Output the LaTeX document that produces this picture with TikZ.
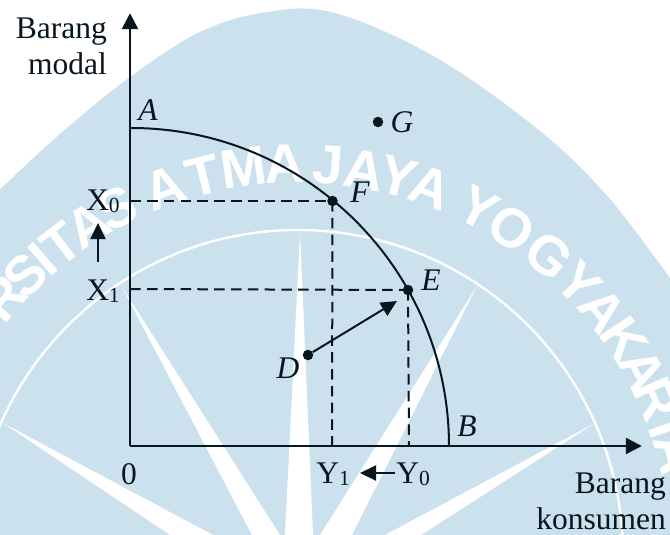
\documentclass[tikz,border=0pt]{standalone}
\usepackage{fontspec}
\setmainfont{Liberation Serif}
\newfontfamily\wmfont{Liberation Sans}
\usetikzlibrary{arrows.meta}
\definecolor{wmblue}{HTML}{CCE1EE}
\definecolor{ink}{HTML}{081620}
\tikzset{
  x=1pt,y=1pt,
  lbl/.style={inner sep=0pt,text=ink,font=\fontsize{31.5}{36}\selectfont},
  pointdot/.style={circle,fill=ink,inner sep=0pt,minimum size=10.5pt},
  anchorpt/.style={inner sep=0pt,minimum size=0pt},
  axisline/.style={draw=ink,line width=2.6pt,-{Triangle[length=16pt,width=16pt]}},
  helper/.style={draw=ink,line width=2pt,dash pattern=on 10.5pt off 6.3pt},
  shiftarrow/.style={draw=ink,line width=2pt,-{Triangle[length=16pt,width=15pt]}},
  ray/.style={fill=white,draw=none},
  wmletter/.style={inner sep=0pt,text=white,anchor=base,font=\wmfont\bfseries\fontsize{55}{55}\selectfont}
}
\newcommand{\subd}[1]{{\fontsize{21.5}{21.5}\selectfont\raisebox{-2pt}{#1}}}
\begin{document}
\begin{tikzpicture}
\useasboundingbox (0,0) rectangle (670,-535);
\clip (0,0) rectangle (670,-535);
% watermark
\fill[wmblue] plot[smooth,tension=0.6] coordinates {(-5,-194) (60,-134) (130,-77) (200,-32) (267,-12) (335,-13) (435,-57) (535,-127) (602,-190) (662,-267) (690,-310)} -- (690,-545) -- (-5,-545) -- cycle;
\draw[white,line width=2.4pt] (298,-555) ++(175:325) arc[start angle=175,end angle=-5,radius=325];
\fill[ray] (300,-232) -- (285,-535) -- (313,-535) -- cycle;
\fill[ray] (122,-287) -- (252,-535) -- (280,-535) -- cycle;
\fill[ray] (477,-286) -- (320,-535) -- (352,-535) -- cycle;
\fill[ray] (3,-423) -- (170,-535) -- (213,-535) -- cycle;
\fill[ray] (595,-423) -- (385,-535) -- (421,-535) -- cycle;
\foreach \ch/\ang in {R/-49,S/-44.3,I/-40.8,T/-37.3,A/-32.4,S/-27.5,
    A/-20,T/-14,M/-8,A/-2,J/4.5,A/9.8,Y/14.9,A/19.9,
    Y/27.5,O/33.2,G/40,Y/46,A/51.3,K/56.5,A/61.8,R/66.5,T/71,A/75}{
  \node[wmletter,rotate=-\ang] at ([shift={(90-\ang:372)}]298,-555) {\ch};
}
% diagram
\node[anchorpt] (O) at (130,-446) {};
\node[anchorpt] (ytip) at (130,-13) {};
\node[anchorpt] (xtip) at (642,-446) {};
\node[anchorpt] (Apt) at (131,-128) {};
\node[anchorpt] (Bpt) at (449,-446) {};
\node[anchorpt] (X0pt) at (130,-201) {};
\node[anchorpt] (X1pt) at (130,-289) {};
\node[anchorpt] (Y1pt) at (332,-446) {};
\node[anchorpt] (Y0pt) at (409,-446) {};
\draw[draw=ink,line width=2pt] (Apt) arc[start angle=90,end angle=0,radius=318];
\node[pointdot] (F) at (332.5,-201) {};
\node[pointdot] (E) at (408,-290) {};
\node[pointdot] (D) at (308,-355) {};
\node[pointdot] (G) at (378,-122) {};
\draw[helper] (X0pt) -- (F.center);
\draw[helper] (F.center) -- (Y1pt);
\draw[helper] (X1pt) -- (E.center);
\draw[helper] (E.center) -- (Y0pt);
\coordinate (Dtip) at (397,-301);
\draw[shiftarrow] (D) -- (Dtip);
\draw[axisline] (O.center) -- (ytip);
\draw[axisline] (O.center) -- (xtip);
\node[lbl,align=right,anchor=east] (ylab) at (107,-46) {\fontsize{31.5}{38.5}\selectfont Barang\\modal};
\node[lbl,align=right,anchor=east] (xlab) at (666,-501) {\fontsize{31.5}{41}\selectfont Barang\\konsumen};
\node[lbl] (Albl) at (148,-110) {\textit{A}};
\node[lbl] (Blbl) at (467,-426) {\textit{B}};
\node[lbl] (Dlbl) at (288,-368) {\textit{D}};
\node[lbl] (Elbl) at (431,-280) {\textit{E}};
\node[lbl] (Flbl) at (360,-192) {\textit{F}};
\node[lbl] (Glbl) at (402,-122) {\textit{G}};
\node[lbl] (zero) at (129,-474) {0};
\node[lbl] (X0) at (103,-201) {X\subd{0}};
\node[lbl] (X1) at (103,-291) {X\subd{1}};
\node[lbl] (Y1) at (333,-474) {Y\subd{1}};
\node[lbl] (Y0) at (413,-474) {Y\subd{0}};
\coordinate (upS) at (98,-262);
\coordinate (upE) at (98,-223);
\coordinate (leftE) at (360,-473);
\draw[shiftarrow] (upS) -- (upE);
\draw[shiftarrow] (Y0.west |- leftE) ++(-1,0) -- (leftE);
\end{tikzpicture}
\end{document}
